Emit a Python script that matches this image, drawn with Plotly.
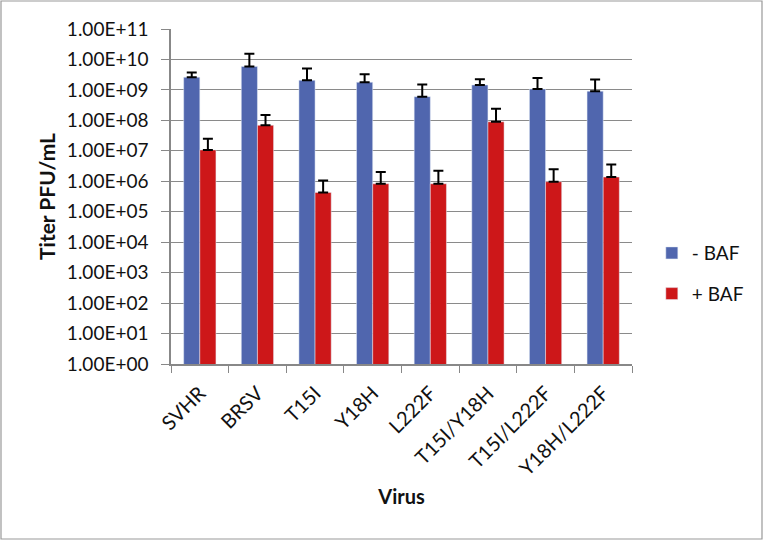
import plotly.graph_objects as go

viruses = ["SVHR", "BRSV", "T15I", "Y18H", "L222F", "T15I/Y18H", "T15I/L222F", "Y18H/L222F"]
minus_baf = [2.6e9, 5.9e9, 2.06e9, 1.78e9, 6.0e8, 1.45e9, 1.07e9, 9.1e8]
minus_baf_err = [1.1e9, 9.6e9, 3.0e9, 1.5e9, 9.0e8, 8.0e8, 1.4e9, 1.3e9]
plus_baf = [1.07e7, 6.9e7, 4.3e5, 8.3e5, 8.3e5, 9.0e7, 9.7e5, 1.38e6]
plus_baf_err = [1.4e7, 8.0e7, 6.4e5, 1.2e6, 1.4e6, 1.5e8, 1.5e6, 2.2e6]
tick_vals = [1e0, 1e1, 1e2, 1e3, 1e4, 1e5, 1e6, 1e7, 1e8, 1e9, 1e10, 1e11]
tick_text = ["1.00E+00", "1.00E+01", "1.00E+02", "1.00E+03", "1.00E+04", "1.00E+05",
             "1.00E+06", "1.00E+07", "1.00E+08", "1.00E+09", "1.00E+10", "1.00E+11"]

W, H = 764, 541
L, R, T, B = 171, 132, 29, 177
pw, ph = W - L - R, H - T - B

fig = go.Figure()
fig.add_trace(go.Bar(
    x=viruses, y=minus_baf, name="- BAF", marker_color="#5066AE", legendgroup="a",
    error_y=dict(type="data", array=minus_baf_err, arrayminus=[0]*len(viruses), symmetric=False,
                 color="black", thickness=2, width=5)))
fig.add_trace(go.Bar(
    x=viruses, y=plus_baf, name="+ BAF", marker_color="#CD1719", legendgroup="b",
    error_y=dict(type="data", array=plus_baf_err, arrayminus=[0]*len(viruses), symmetric=False,
                 color="black", thickness=2, width=5)))

font = "Lato, 'Open Sans', sans-serif"
fig.update_layout(
    width=W, height=H,
    margin=dict(l=L, r=R, t=T, b=B),
    paper_bgcolor="white", plot_bgcolor="white",
    barmode="group", bargap=0.44, bargroupgap=0,
    font=dict(family=font, size=19, color="#111"),
    showlegend=True,
    legend=dict(x=1.043, y=0.27, xanchor="left", yanchor="middle", traceorder="grouped",
                tracegroupgap=13, font=dict(size=19), bgcolor="rgba(0,0,0,0)"),
    xaxis=dict(type="category", showline=True, linecolor="#888", linewidth=1.5,
               ticks="outside", tickson="boundaries", ticklen=7, tickcolor="#888",
               tickangle=-45, tickfont=dict(size=20), ticklabelstandoff=8,
               title=dict(text="<b>Virus</b>", font=dict(size=20), standoff=11)),
    yaxis=dict(type="log", range=[0, 11], tickvals=tick_vals, ticktext=tick_text,
               showgrid=True, gridcolor="#8a8a8a", gridwidth=1.2,
               showline=True, linecolor="#888", linewidth=1.5,
               ticks="outside", ticklen=8, tickcolor="#888", tickfont=dict(size=19),
               ticklabelstandoff=9,
               title=dict(text="<b>Titer PFU/mL</b>", font=dict(size=21), standoff=6)),
    shapes=[dict(type="rect", xref="paper", yref="paper",
                 x0=(1 - L) / pw, x1=(W - 2 - L) / pw,
                 y0=(T + ph - (H - 2)) / ph, y1=(T + ph - 1) / ph,
                 line=dict(color="#999", width=1.2), fillcolor="rgba(0,0,0,0)", layer="below")],
)

fig.write_html("out.html", config={"displayModeBar": False},
               post_script="document.body.style.margin='0';document.body.style.overflow='hidden';")
